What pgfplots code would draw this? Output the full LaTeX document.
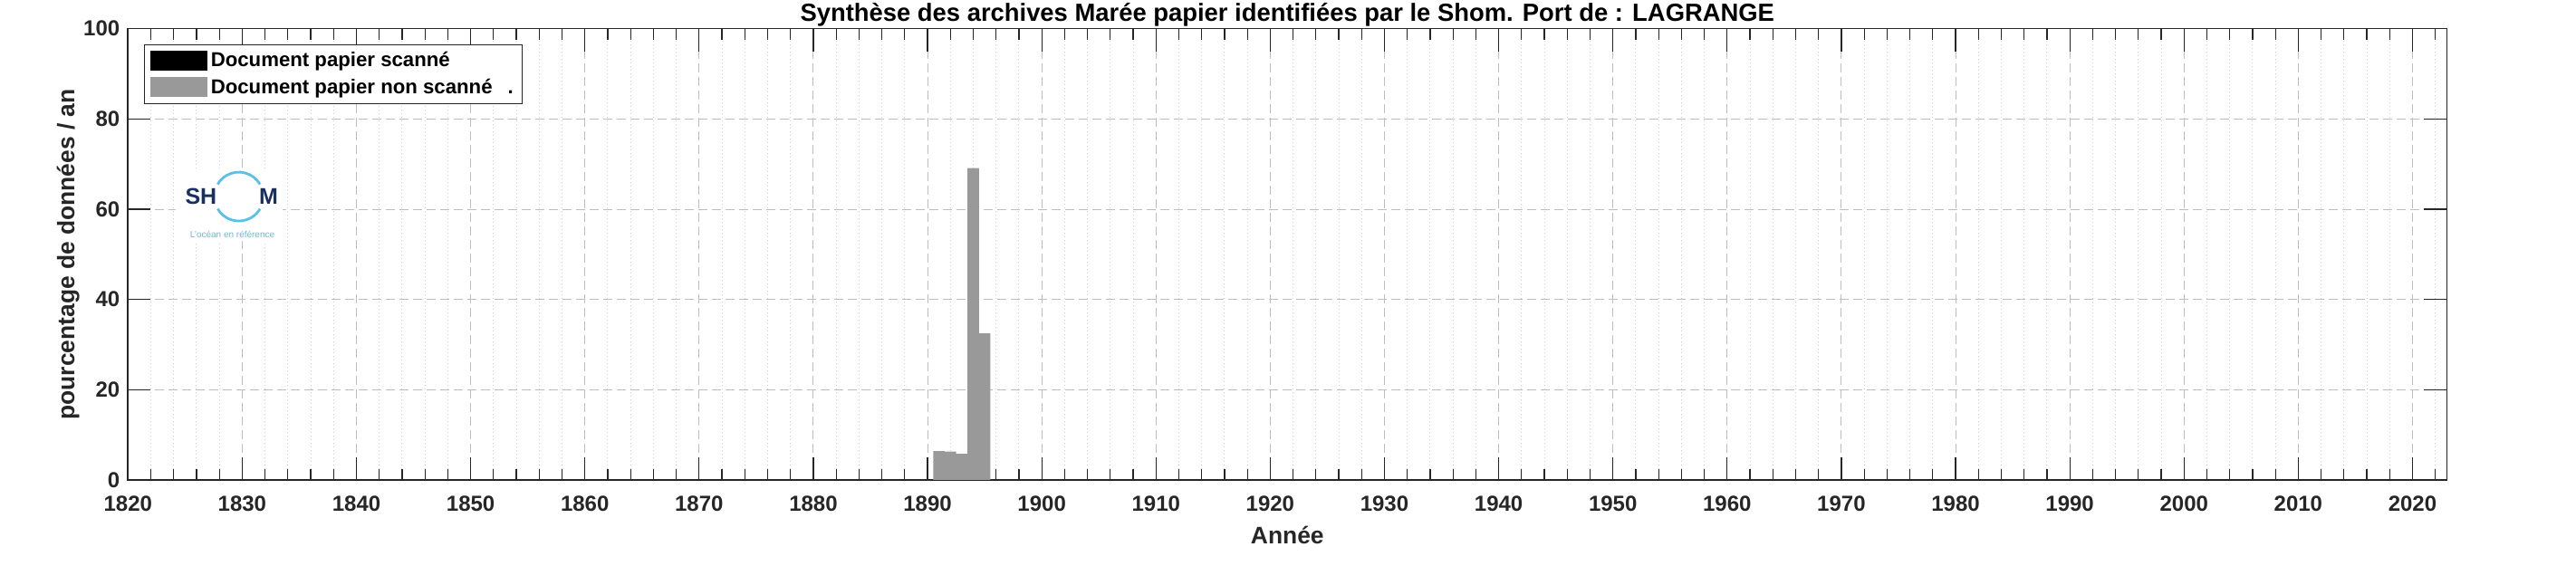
\documentclass[border=0pt]{standalone}
\usepackage{pgfplots}
\pgfplotsset{compat=1.18}
\usepackage{fontspec}
\setmainfont{Liberation Sans}
\definecolor{axc}{HTML}{262626}
\definecolor{barc}{HTML}{999999}
\definecolor{gridc}{HTML}{BDBDBD}
\definecolor{mgridc}{HTML}{CFCFCF}
\definecolor{shomblue}{HTML}{5BC0E8}
\definecolor{shomnavy}{HTML}{17305E}
\begin{document}
\begin{tikzpicture}
\path[use as bounding box] (-70.65pt,-47.5pt) rectangle (1351.35pt,265pt);
\begin{axis}[
  at={(0,0)}, anchor=south west,
  scale only axis, width=1280pt, height=249.15pt,
  xmin=1820, xmax=2023, ymin=0, ymax=100,
  xtick={1820,1830,...,2020},
  minor xtick={1822,1824,1826,1828,1832,1834,1836,1838,1842,1844,1846,1848,1852,1854,1856,1858,1862,1864,1866,1868,1872,1874,1876,1878,1882,1884,1886,1888,1892,1894,1896,1898,1902,1904,1906,1908,1912,1914,1916,1918,1922,1924,1926,1928,1932,1934,1936,1938,1942,1944,1946,1948,1952,1954,1956,1958,1962,1964,1966,1968,1972,1974,1976,1978,1982,1984,1986,1988,1992,1994,1996,1998,2002,2004,2006,2008,2012,2014,2016,2018,2022},
  ytick={0,20,...,100},
  xmajorgrids, ymajorgrids, xminorgrids,
  major grid style={color=gridc, dash pattern=on 5pt off 2.5pt, line width=0.5pt},
  minor grid style={color=mgridc, dash pattern=on 0.5pt off 1.5pt, line width=0.5pt},
  tick align=inside,
  major tick length=12.5pt, minor tick length=6pt,
  every tick/.style={axc, line width=0.6pt},
  axis line style={axc, line width=0.8pt},
  /pgf/number format/assume math mode=true,
  /pgf/number format/1000 sep={},
  ticklabel style={font=\fontsize{12}{14}\selectfont\bfseries, text=axc},
  xticklabel style={yshift=-5.5pt},
  yticklabel style={xshift=-1pt},
  every axis title shift=0pt,
  title={Synthèse des archives Marée papier identifiées par le Shom. Port de : LAGRANGE},
  title style={at={(0.5,1)}, anchor=base, yshift=4pt, font=\fontsize{13.7}{15}\selectfont\bfseries, text=black},
  xlabel={Année},
  xlabel style={at={(0.5,0)}, anchor=center, yshift=-30.5pt, font=\fontsize{13.2}{15}\selectfont\bfseries, text=axc},
  ylabel={pourcentage de données / an},
  ylabel style={at={(0,0.5)}, anchor=center, rotate=0, yshift=33pt, font=\fontsize{13.2}{15}\selectfont\bfseries, text=axc},
  legend style={at={(0,1)}, anchor=north west, xshift=9pt, yshift=-8.65pt,
    draw=axc, line width=0.5pt, fill=white,
    font=\fontsize{11.1}{12}\selectfont\bfseries,
    inner xsep=3pt, inner ysep=2pt, row sep=1pt,
    cells={anchor=west}},
]
\addplot[ybar, bar width=1, bar shift=0pt, fill=barc, draw=none, forget plot] coordinates {
  (1891,6.4) (1892,6.3) (1893,5.8) (1894,69.1) (1895,32.5)
};
\addlegendimage{legend image code/.code={\fill[black] (0pt,-5.25pt) rectangle (31pt,5.25pt);}}
\addlegendentry{Document papier scanné}
\addlegendimage{legend image code/.code={\fill[barc] (0pt,-5.25pt) rectangle (31pt,5.25pt);}}
\addlegendentry{Document papier non scanné\hspace{8.5pt}.}
% Shom logo
\fill[white] (axis description cs:0.0206,0.530) rectangle (axis description cs:0.0667,0.686);
\node[font=\fontsize{12.5}{14}\selectfont\bfseries, text=shomnavy, inner sep=0pt] at (axis description cs:0.0315,0.628) {SH};
\node[font=\fontsize{12.5}{14}\selectfont\bfseries, text=shomnavy, inner sep=0pt] at (axis description cs:0.0606,0.628) {M};
\draw[shomblue, line width=1.4pt] (axis description cs:0.0478,0.628) ++(30:13.5pt) arc[start angle=30, end angle=150, radius=13.5pt];
\draw[shomblue, line width=1.4pt] (axis description cs:0.0478,0.628) ++(210:13.5pt) arc[start angle=210, end angle=330, radius=13.5pt];
\node[font=\fontsize{5}{6}\selectfont, text=shomblue, inner sep=0pt] at (axis description cs:0.045,0.544) {L'océan en référence};
\end{axis}
\end{tikzpicture}
\end{document}
